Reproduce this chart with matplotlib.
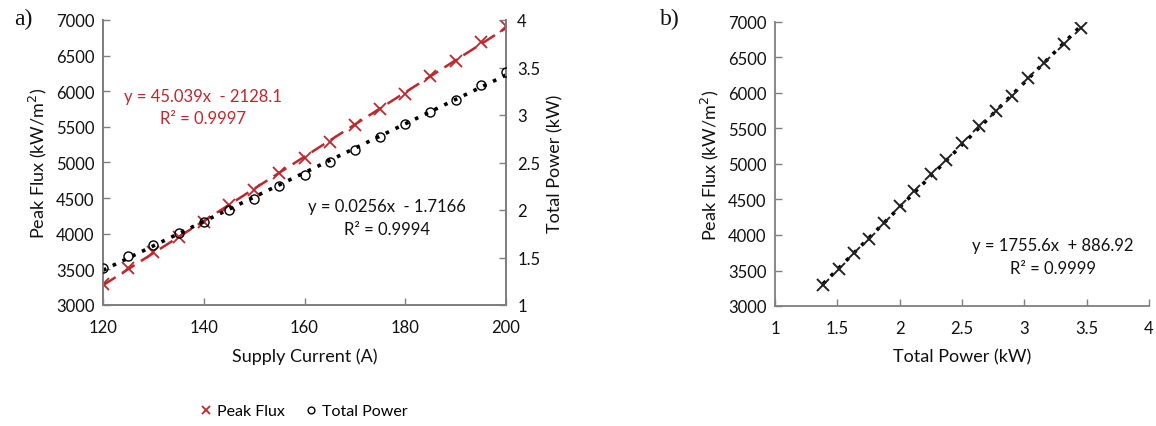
import numpy as np
import matplotlib
matplotlib.use("Agg")
import matplotlib.pyplot as plt

plt.rcParams['font.family'] = ['Lato', 'DejaVu Sans']

# Data
supply_current = [120, 125, 130, 135, 140, 145, 150, 155, 160, 165, 170, 175, 180, 185, 190, 195, 200]
peak_flux = [3295, 3515, 3749, 3950, 4170, 4404, 4619, 4853, 5058, 5292, 5531, 5751, 5961, 6209, 6429, 6686, 6920]
total_power = [1.386, 1.512, 1.635, 1.758, 1.877, 2.004, 2.116, 2.249, 2.372, 2.502, 2.635, 2.772,
               2.905, 3.028, 3.161, 3.316, 3.456]

flux_eq = ["y = 45.039x  - 2128.1", "R² = 0.9997"]
power_eq = ["y = 0.0256x  - 1.7166", "R² = 0.9994"]
b_eq = ["y = 1755.6x  + 886.92", "R² = 0.9999"]

RED = '#c0272d'
TXT = '#111111'
SPINE = '#7f7f7f'
TS = 12

fig = plt.figure(figsize=(11.56, 4.27), dpi=100)

# ---------- panel a ----------
ax = fig.add_axes([103/1156, 1-306/427, 403/1156, 285/427])
ax2 = ax.twinx()
x = np.array(supply_current, float)
pf = np.array(peak_flux, float)
tp = np.array(total_power, float)

c1 = np.polyfit(x, pf, 1)
c2 = np.polyfit(x, tp, 1)
xl = np.array([x.min(), x.max()])
ax.plot(xl, np.polyval(c1, xl), color=RED, ls=(0, (6, 3)), lw=1.8, zorder=2)
h1, = ax.plot(x, pf, ls='none', marker='x', ms=8, mew=1.3, color=RED, zorder=3)
ax2.plot(xl, np.polyval(c2, xl), color='black', ls=(0, (1, 2)), lw=2.6, zorder=2)
h2, = ax2.plot(x, tp, ls='none', marker='o', ms=6.5, mfc='none', mec='black', mew=1.0, zorder=3)

ax.set_xlim(120, 200)
ax.set_ylim(3000, 7000)
ax2.set_ylim(1, 4)
ax.set_xticks([120, 140, 160, 180, 200])
ax.set_yticks(range(3000, 7001, 500))
ax2.set_yticks([1, 1.5, 2, 2.5, 3, 3.5, 4])
ax2.set_yticklabels(['1', '1.5', '2', '2.5', '3', '3.5', '4'])

for a in (ax, ax2):
    a.spines['top'].set_visible(False)
    for s in ('left', 'right', 'bottom'):
        a.spines[s].set_color(SPINE)
        a.spines[s].set_linewidth(1.3)
    a.tick_params(direction='in', length=5, width=1, color=SPINE, labelsize=TS, labelcolor=TXT)
ax.tick_params(axis='x', pad=10)
ax2.tick_params(axis='y', pad=8)
ax.tick_params(axis='y', pad=6)

ax.set_xlabel('Supply Current (A)', fontsize=13, color=TXT, labelpad=9)
ax.set_ylabel('Peak Flux (kW/m$^2$)', fontsize=13, color=TXT, labelpad=5)
ax2.set_ylabel('Total Power (kW)', fontsize=13, color=TXT, labelpad=5)

fig.text(203/1156, 1-97/427, flux_eq[0], color=RED, fontsize=TS, ha='center', va='center')
fig.text(203/1156, 1-119/427, flux_eq[1], color=RED, fontsize=TS, ha='center', va='center')
fig.text(387/1156, 1-207/427, power_eq[0], color=TXT, fontsize=TS, ha='center', va='center')
fig.text(387/1156, 1-230/427, power_eq[1], color=TXT, fontsize=TS, ha='center', va='center')

fig.legend([h1, h2], ['Peak Flux', 'Total Power'], loc='center', bbox_to_anchor=(302/1156, 1-412/427),
           ncol=2, frameon=False, fontsize=11.5, handletextpad=0.1, columnspacing=1.0,
           markerscale=0.75, handlelength=1.2)

fig.text(14/1156, 1-19/427, 'a)', family='Liberation Serif', fontsize=17, ha='left', va='center', color=TXT)

# ---------- panel b ----------
bx = fig.add_axes([775/1156, 1-307/427, 374/1156, 284/427])
c3 = np.polyfit(tp, pf, 1)
tl = np.array([tp.min(), tp.max()])
bx.plot(tl, np.polyval(c3, tl), color='black', ls=(0, (1, 2)), lw=2.6, zorder=2)
bx.plot(tp, pf, ls='none', marker='x', ms=8, mew=1.4, color='#222222', zorder=3)
bx.set_xlim(1, 4)
bx.set_ylim(3000, 7000)
bx.set_xticks([1, 1.5, 2, 2.5, 3, 3.5, 4])
bx.set_xticklabels(['1', '1.5', '2', '2.5', '3', '3.5', '4'])
bx.set_yticks(range(3000, 7001, 500))
bx.spines['top'].set_visible(False)
bx.spines['right'].set_visible(False)
for s in ('left', 'bottom'):
    bx.spines[s].set_color(SPINE)
    bx.spines[s].set_linewidth(1.3)
bx.tick_params(direction='in', length=5, width=1, color=SPINE, labelsize=TS, labelcolor=TXT)
bx.tick_params(axis='x', pad=10)
bx.tick_params(axis='y', pad=6)
bx.set_xlabel('Total Power (kW)', fontsize=13, color=TXT, labelpad=9)
bx.set_ylabel('Peak Flux (kW/m$^2$)', fontsize=13, color=TXT, labelpad=5)

fig.text(1053/1156, 1-246/427, b_eq[0], color=TXT, fontsize=TS, ha='center', va='center')
fig.text(1053/1156, 1-269/427, b_eq[1], color=TXT, fontsize=TS, ha='center', va='center')
fig.text(660/1156, 1-19/427, 'b)', family='Liberation Serif', fontsize=17, ha='left', va='center', color=TXT)

fig.savefig('out.png', dpi=100)
